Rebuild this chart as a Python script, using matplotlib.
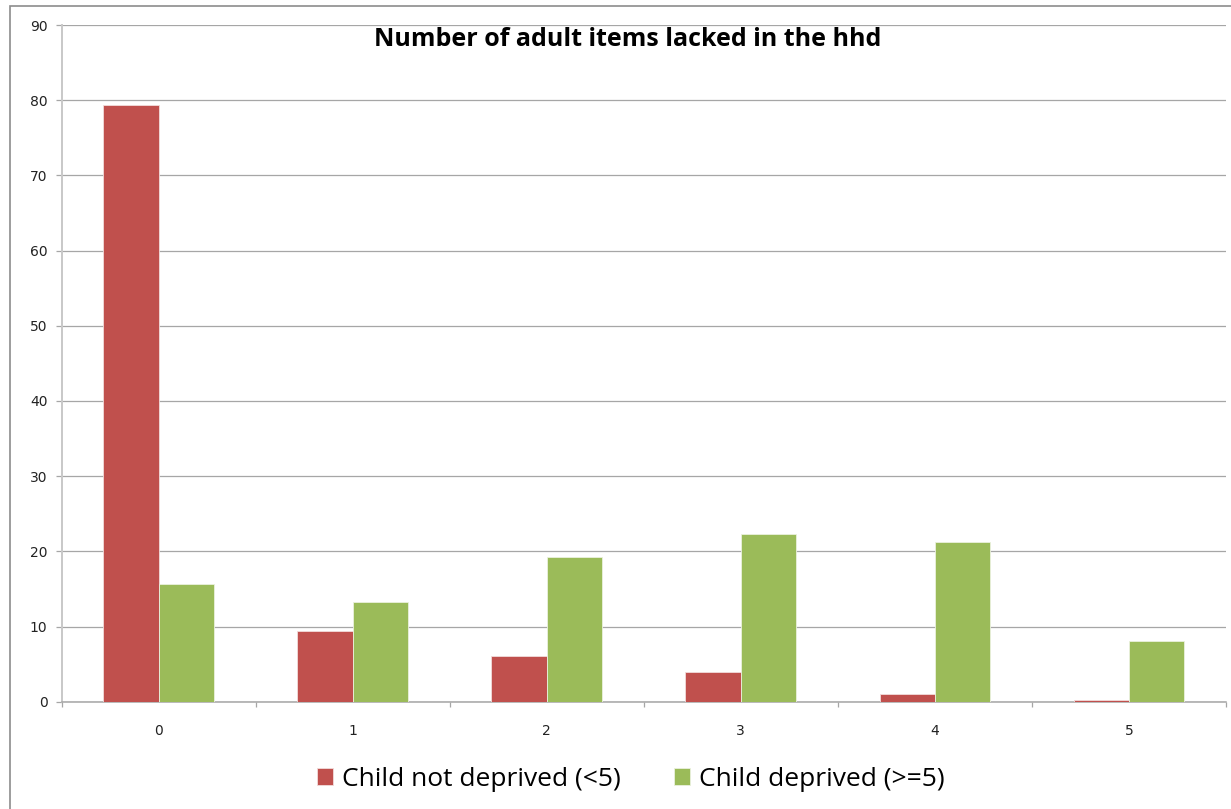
import matplotlib
matplotlib.use("Agg")
import matplotlib.pyplot as plt
import numpy as np
from matplotlib.patches import Rectangle

categories = ["0", "1", "2", "3", "4", "5"]
not_deprived = [79.3, 9.35, 6.1, 3.95, 1.05, 0.25]
deprived = [15.65, 13.3, 19.25, 22.3, 21.3, 8.1]
series_names = ["Child not deprived (<5)", "Child deprived (>=5)"]
title = "Number of adult items lacked in the hhd"
yticks = list(range(0, 91, 10))

W, H = 1231, 809
fig = plt.figure(figsize=(W / 100, H / 100), dpi=100)
fig.patch.set_facecolor("white")

# outer chart frame (right/bottom edges fall outside the image)
fig.add_artist(Rectangle((10 / W, -0.01), (1240 - 10) / W, (H - 6) / H + 0.01,
                         transform=fig.transFigure, fill=False,
                         edgecolor="#8c8c8c", linewidth=1.2))

ax = fig.add_axes([61.5 / W, (H - 701.7) / H, (1226 - 61.5) / W, (701.7 - 25) / H])
x = np.arange(len(categories))
bw = 0.285
red, green = "#C0504D", "#9BBB59"
ax.bar(x - bw / 2, not_deprived, bw, color=red, edgecolor="#f2dcdb", linewidth=0.6,
       label=series_names[0], zorder=3)
ax.bar(x + bw / 2, deprived, bw, color=green, edgecolor="#ebf1de", linewidth=0.6,
       label=series_names[1], zorder=3)

ax.set_xlim(-0.5, len(categories) - 0.5)
ax.set_ylim(0, 90)
ax.set_yticks(yticks)
ax.set_yticklabels([str(t) for t in yticks], fontsize=10, color="#222222",
                   family="DejaVu Sans")
ax.yaxis.grid(True, color="#a6a6a6", linewidth=0.9, zorder=0)
ax.set_axisbelow(True)

ax.set_xticks(x)
ax.set_xticklabels(categories, fontsize=10, color="#222222", family="DejaVu Sans")
ax.set_xticks(np.arange(-0.5, len(categories)), minor=True)
ax.tick_params(axis="x", which="major", length=0, pad=16)
ax.tick_params(axis="x", which="minor", length=3.6, color="#a6a6a6", width=0.9)
ax.tick_params(axis="y", length=4.3, color="#a6a6a6", width=0.9, pad=5.8)

for s in ["top", "right"]:
    ax.spines[s].set_visible(False)
ax.spines["left"].set_color("#c8c8c8")
ax.spines["left"].set_linewidth(1.4)
ax.spines["bottom"].set_color("#a6a6a6")
ax.spines["bottom"].set_linewidth(1.1)

fig.text(627.5 / W, 1 - 39 / H, title, ha="center", va="center", fontsize=18,
         fontweight="bold", family="Open Sans")

leg = fig.legend(loc="center", bbox_to_anchor=(631 / W, 1 - 779 / H), ncol=2,
                 frameon=False, prop={"family": "Open Sans", "size": 19},
                 handlelength=0.6, handleheight=0.6, handletextpad=0.36,
                 columnspacing=2.0)

fig.savefig("out.png", dpi=100, facecolor="white")
